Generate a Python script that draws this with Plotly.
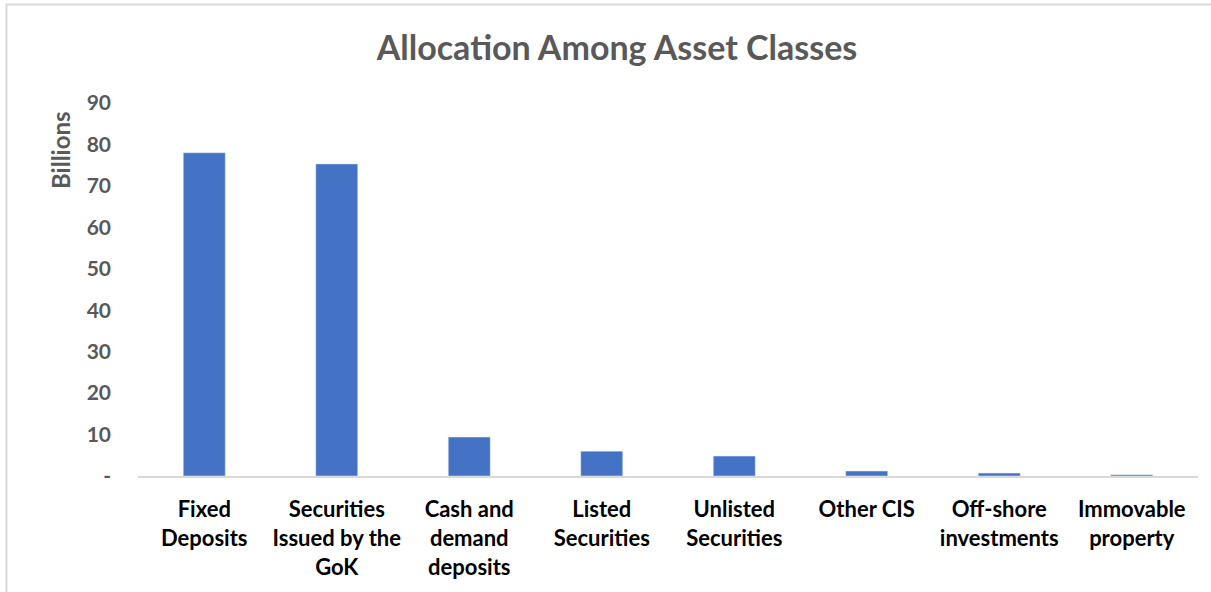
import plotly.graph_objects as go

categories = ["Fixed<br>Deposits", "Securities<br>Issued by the<br>GoK", "Cash and<br>demand<br>deposits",
              "Listed<br>Securities", "Unlisted<br>Securities", "Other CIS",
              "Off-shore<br>investments", "Immovable<br>property"]
values = [78.0, 75.3, 9.4, 6.0, 4.8, 1.2, 0.7, 0.3]
tick_vals = [0, 10, 20, 30, 40, 50, 60, 70, 80, 90]
tick_text = ["-", "10", "20", "30", "40", "50", "60", "70", "80", "90"]

W, H = 1211, 592
L, R, T, B = 138, 13, 103, 116
pw, ph = W - L - R, H - T - B

fig = go.Figure(go.Bar(x=categories, y=values, marker_color="#4472C4", width=0.317))

fig.update_layout(
    width=W, height=H,
    margin=dict(l=L, r=R, t=T, b=B),
    paper_bgcolor="white", plot_bgcolor="white",
    font=dict(family="Lato, sans-serif", color="#000000"),
    title=dict(text="<b>Allocation Among Asset Classes</b>", x=617 / W, xanchor="center",
               y=1 - 48 / H, yanchor="middle",
               font=dict(size=34, color="#595959", family="Lato, sans-serif")),
    showlegend=False,
)
fig.update_xaxes(showline=True, linecolor="#d9d9d9", linewidth=2, ticks="",
                 ticklabelstandoff=13,
                 tickfont=dict(size=22, color="#000000", family="Lato, sans-serif"),
                 tickprefix="<b>", ticksuffix="</b>")
fig.update_yaxes(range=[0, 90], tickvals=tick_vals, ticktext=[f"<b>{t}</b>" for t in tick_text],
                 showgrid=False, zeroline=False, showline=False, ticks="",
                 ticklabelstandoff=26,
                 tickfont=dict(size=21, color="#595959", family="Lato, sans-serif"))

fig.add_annotation(text="<b>Billions</b>", textangle=-90, xref="paper", yref="paper",
                   x=(60 - L) / pw, y=(H - B - 150) / ph, xanchor="center", yanchor="middle",
                   showarrow=False, font=dict(size=24, color="#595959", family="Lato, sans-serif"))

fig.add_shape(type="rect", xref="paper", yref="paper",
              x0=(6.5 - L) / pw, x1=1.2, y0=-0.6, y1=(H - B - 4.5) / ph,
              line=dict(color="#d9d9d9", width=2), fillcolor="rgba(0,0,0,0)", layer="below")

fig.write_html("out.html", config={"displayModeBar": False},
               post_script="document.body.style.margin='0';")
